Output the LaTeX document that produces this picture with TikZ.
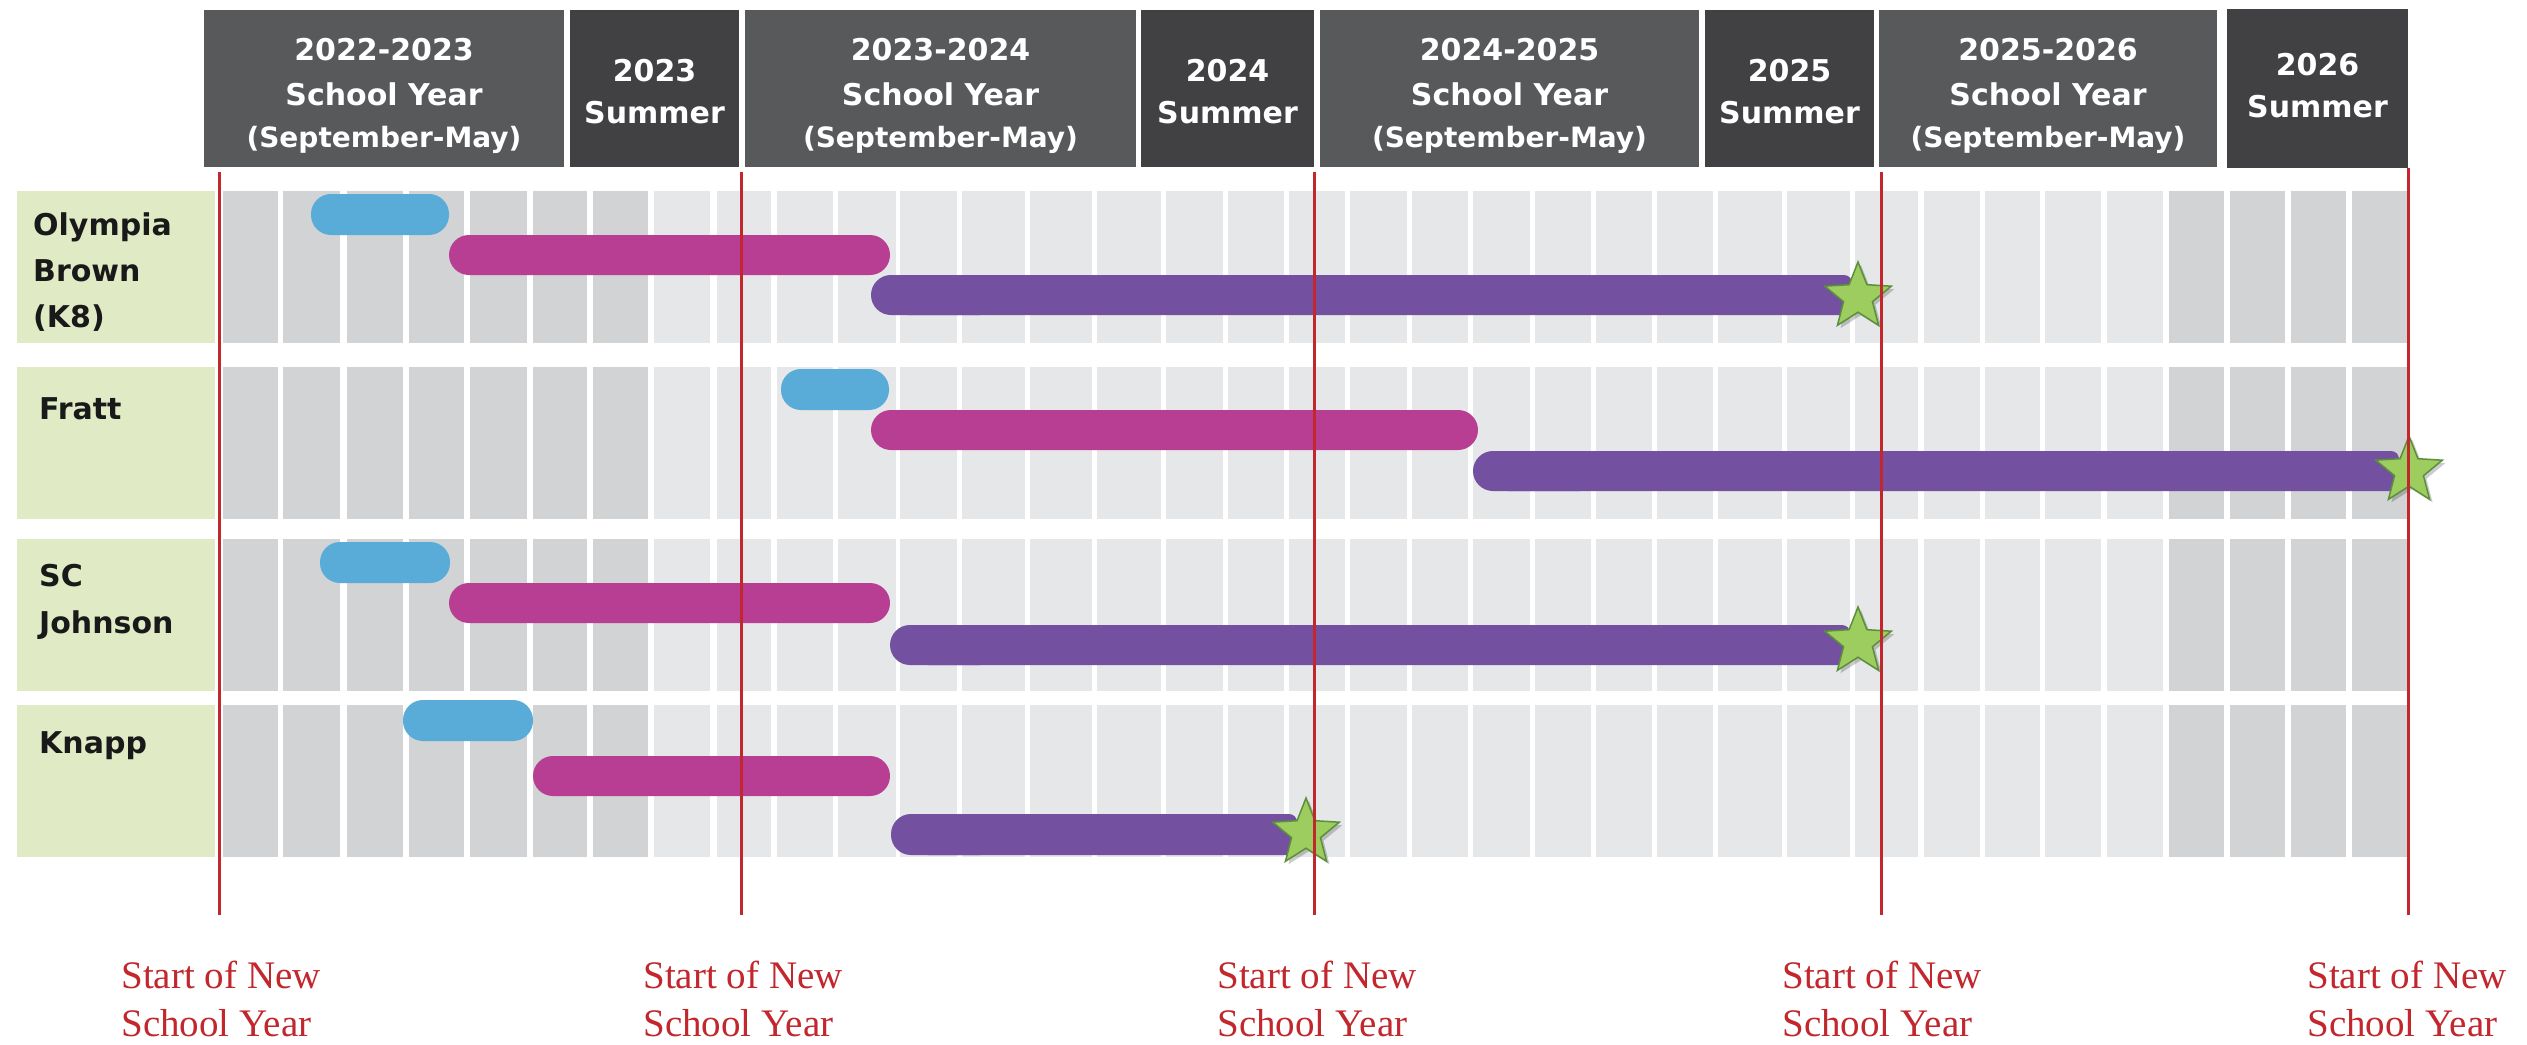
\documentclass[tikz,border=0pt]{standalone}
\usepackage{fontspec}
\newfontfamily\hdfont{DejaVu Sans}
\newfontfamily\labfont{Liberation Serif}
\usetikzlibrary{shapes.geometric}
\definecolor{hdmid}{HTML}{58595B}
\definecolor{hddark}{HTML}{414042}
\definecolor{gridd}{HTML}{D1D3D4}
\definecolor{gridl}{HTML}{E6E7E8}
\definecolor{labgreen}{HTML}{E0EBC5}
\definecolor{redl}{HTML}{C1272D}
\definecolor{barblue}{HTML}{5AACD8}
\definecolor{barmag}{HTML}{B83E93}
\definecolor{barpur}{HTML}{7350A0}
\definecolor{stargreen}{HTML}{9DCC5F}
\definecolor{stardark}{HTML}{5C8F3C}
\tikzset{
 hdbox/.style={rectangle, inner sep=0pt, draw=none, minimum height=157pt},
 hdtext/.style={text=white, inner sep=0pt, anchor=base, font=\hdfont\bfseries\fontsize{30}{36}\selectfont},
 hdsub/.style={hdtext, font=\hdfont\bfseries\fontsize{28}{32}\selectfont},
 rowlab/.style={inner sep=0pt, anchor=base west, text=black!90, font=\hdfont\bfseries\fontsize{30}{36}\selectfont},
 labbox/.style={fill=labgreen, inner sep=0pt, minimum width=198pt, minimum height=152pt},
 redline/.style={draw=redl, line width=3pt},
 redlab/.style={text=redl, inner sep=0pt, anchor=north, align=left, font=\labfont\fontsize{39}{48}\selectfont},
 pill/.style={rounded corners=20pt},
 mstar/.style={star, star points=5, star point ratio=2.3, minimum size=70pt, inner sep=0pt, fill=stargreen, draw=stardark, line width=1.5pt},
 mshadow/.style={star, star points=5, star point ratio=2.3, minimum size=70pt, inner sep=0pt, fill=black, opacity=0.2},
}
\begin{document}
\begin{tikzpicture}[x=1pt,y=-1pt]
\useasboundingbox (0,0) rectangle (2527,1044);
\fill[white] (0,0) rectangle (2527,1044);

% header boxes
\node[hdbox, fill=hdmid,  minimum width=360pt] (h1) at (384,88.5) {};
\node[hdbox, fill=hddark, minimum width=169pt] (h2) at (654.5,88.5) {};
\node[hdbox, fill=hdmid,  minimum width=391pt] (h3) at (940.5,88.5) {};
\node[hdbox, fill=hddark, minimum width=173pt] (h4) at (1227.5,88.5) {};
\node[hdbox, fill=hdmid,  minimum width=379pt] (h5) at (1509.5,88.5) {};
\node[hdbox, fill=hddark, minimum width=169pt] (h6) at (1789.5,88.5) {};
\node[hdbox, fill=hdmid,  minimum width=338pt] (h7) at (2048,88.5) {};
\node[hdbox, fill=hddark, minimum width=181pt, minimum height=159pt] (h8) at (2317.5,88.5) {};

% header texts
\node[hdtext] (t1a) at (384,60) {2022-2023};
\node[hdtext] (t1b) at (384,105) {School Year};
\node[hdsub]  (t1c) at (384,147) {(September-May)};
\node[hdtext] (t2a) at (654.5,81) {2023};
\node[hdtext] (t2b) at (654.5,123) {Summer};
\node[hdtext] (t3a) at (940.5,60) {2023-2024};
\node[hdtext] (t3b) at (940.5,105) {School Year};
\node[hdsub]  (t3c) at (940.5,147) {(September-May)};
\node[hdtext] (t4a) at (1227.5,81) {2024};
\node[hdtext] (t4b) at (1227.5,123) {Summer};
\node[hdtext] (t5a) at (1509.5,60) {2024-2025};
\node[hdtext] (t5b) at (1509.5,105) {School Year};
\node[hdsub]  (t5c) at (1509.5,147) {(September-May)};
\node[hdtext] (t6a) at (1789.5,81) {2025};
\node[hdtext] (t6b) at (1789.5,123) {Summer};
\node[hdtext] (t7a) at (2048,60) {2025-2026};
\node[hdtext] (t7b) at (2048,105) {School Year};
\node[hdsub]  (t7c) at (2048,147) {(September-May)};
\node[hdtext] (t8a) at (2317.5,75) {2026};
\node[hdtext] (t8b) at (2317.5,117) {Summer};

% row label boxes
\node[labbox] (g1) at (116,267) {};
\node[labbox] (g2) at (116,443) {};
\node[labbox] (g3) at (116,615) {};
\node[labbox] (g4) at (116,781) {};

% grid
\foreach \ta/\tb in {191/343, 367/519, 539/691, 705/857}{
  \foreach \s/\e/\c in {223/278/gridd, 283/340/gridd, 347/403/gridd, 409/464/gridd,
    470/527/gridd, 533/587/gridd, 593/648/gridd, 654/710/gridl, 717/771/gridl,
    777/833/gridl, 838/896/gridl, 900/957/gridl, 962/1025/gridl, 1030/1092/gridl,
    1097/1161/gridl, 1166/1223/gridl, 1228/1284/gridl, 1289/1345/gridl,
    1350/1407/gridl, 1412/1468/gridl, 1473/1530/gridl, 1535/1591/gridl,
    1596/1652/gridl, 1657/1713/gridl, 1718/1782/gridl, 1787/1850/gridl,
    1855/1918/gridl, 1924/1980/gridl, 1985/2040/gridl, 2045/2101/gridl,
    2107/2163/gridl, 2169/2224/gridd, 2230/2285/gridd, 2291/2346/gridd, 2352/2407/gridd}{
    \fill[\c] (\s,\ta) rectangle (\e,\tb);
  }
}

% row labels
\node[rowlab] (l1a) at (33,235) {Olympia};
\node[rowlab] (l1b) at (33,281) {Brown};
\node[rowlab] (l1c) at (33,327) {(K8)};
\node[rowlab] (l2a) at (39,419) {Fratt};
\node[rowlab] (l3a) at (39,586) {SC};
\node[rowlab] (l3b) at (39,633) {Johnson};
\node[rowlab] (l4a) at (39,753) {Knapp};

% bars row 1
\fill[barblue, pill] (311,194) rectangle (449,235);
\fill[barmag, pill] (449,235) rectangle (890,275);
\fill[barpur, pill] (871,275) rectangle (1000,315);
\fill[barpur, rounded corners=8pt] (900,275) rectangle (1852,315);
% bars row 2
\fill[barblue, pill] (781,369) rectangle (889,410);
\fill[barmag, pill] (871,410) rectangle (1478,450);
\fill[barpur, pill] (1473,451) rectangle (1600,491);
\fill[barpur, rounded corners=8pt] (1500,451) rectangle (2399,491);
% bars row 3
\fill[barblue, pill] (320,542) rectangle (450,583);
\fill[barmag, pill] (449,583) rectangle (890,623);
\fill[barpur, pill] (890,625) rectangle (1000,665);
\fill[barpur, rounded corners=8pt] (920,625) rectangle (1850,665);
% bars row 4
\fill[barblue, pill] (403,700) rectangle (533,741);
\fill[barmag, pill] (533,756) rectangle (890,796);
\fill[barpur, pill] (891,814) rectangle (1000,855);
\fill[barpur, rounded corners=8pt] (920,814) rectangle (1297,855);

% stars
\node[mshadow] (sh1) at (1861,300) {};
\node[mstar] (s1) at (1858,297) {};
\node[mshadow] (sh2) at (2412,474) {};
\node[mstar] (s2) at (2409,471) {};
\node[mshadow] (sh3) at (1861,645) {};
\node[mstar] (s3) at (1858,642) {};
\node[mshadow] (sh4) at (1309,836) {};
\node[mstar] (s4) at (1306,833) {};

% red lines
\coordinate (r1t) at (219,172); \coordinate (r1b) at (219,915);
\coordinate (r2t) at (741,172); \coordinate (r2b) at (741,915);
\coordinate (r3t) at (1314,172); \coordinate (r3b) at (1314,915);
\coordinate (r4t) at (1881,172); \coordinate (r4b) at (1881,915);
\coordinate (r5t) at (2408,168); \coordinate (r5b) at (2408,915);
\draw[redline] (r1t) -- (r1b);
\draw[redline] (r2t) -- (r2b);
\draw[redline] (r3t) -- (r3b);
\draw[redline] (r4t) -- (r4b);
\draw[redline] (r5t) -- (r5b);

% bottom labels
\node[redlab] (n1) at (221,961) {Start of New\\School Year};
\node[redlab] (n2) at (743,961) {Start of New\\School Year};
\node[redlab] (n3) at (1317,961) {Start of New\\School Year};
\node[redlab] (n4) at (1882,961) {Start of New\\School Year};
\node[redlab] (n5) at (2407,961) {Start of New\\School Year};
\end{tikzpicture}
\end{document}
